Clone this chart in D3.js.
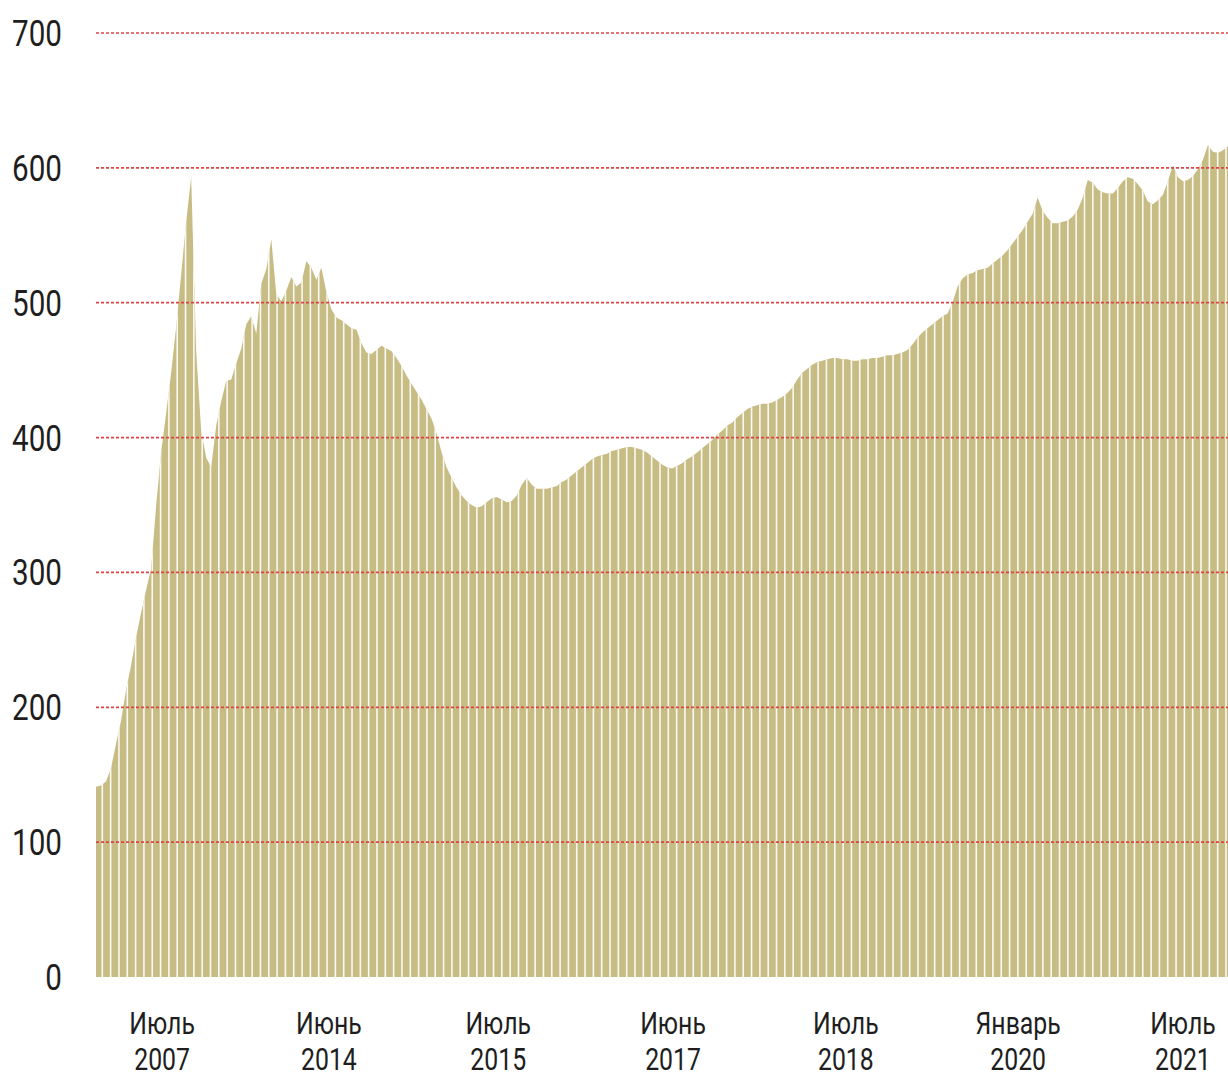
<!DOCTYPE html>
<html>
<head>
<meta charset="utf-8">
<script src="https://cdn.jsdelivr.net/npm/d3@7"></script>
<style>
  html, body { margin: 0; padding: 0; background: #ffffff; }
  svg { display: block; }
  .lbl { font-family: Roboto, "Liberation Sans", sans-serif; font-weight: 400; fill: #1e1e1e; }
</style>
</head>
<body>
<script>
// ---- data ----
const values = [
  141,142,145,155,173,190,213,231,252,270,
  287,303,349,389,418,448,482,521,560,593,
  464,405,385,378,409,427,442,443,455,466,
  484,490,477,514,525,547,506,501,509,519,
  512,515,531,526,517,526,508,495,489,487,
  484,481,480,470,463,462,465,468,466,464,
  459,453,446,440,434,428,421,414,403,389,
  378,370,363,357,353,350,348,349,352,355,
  356,354,352,353,357,365,370,365,362,362,
  362,363,364,367,369,372,375,378,381,384,
  386,387,388,390,391,392,393,393,392,391,
  389,386,383,380,378,377,379,381,384,386,
  389,392,395,398,402,405,409,411,415,418,
  421,423,424,425,425,426,428,430,433,437,
  443,448,451,454,456,457,458,459,459,458,
  458,457,457,458,458,459,459,460,461,461,
  462,463,465,469,474,478,481,484,487,490,
  492,500,512,518,521,522,524,525,526,529,
  532,535,539,544,549,554,560,566,578,568,
  563,559,559,560,561,564,569,578,591,589,
  584,582,581,581,585,590,593,592,588,583,
  575,573,576,580,590,602,593,590,591,594,
  599,606,617,612,611,613,616
];
const yTicks = [0, 100, 200, 300, 400, 500, 600, 700];
const xTickIndex = [13.2, 46.5, 80.3, 115.2, 149.7, 184.1, 217];
const xTickMonth = ["Июль", "Июнь", "Июль", "Июнь", "Июль", "Январь", "Июль"];
const xTickYear  = ["2007", "2014", "2015", "2017", "2018", "2020", "2021"];
const stripeCount = 136;

(function () {
  // ---- layout ----
  const W = 1228, H = 1077;
  const mLeft = 96, mRight = 1228, mTop = 33, mBottom = 977;
  const squeeze = 0.8; // condensed look of the reference typeface

  const svg = d3.select("body").append("svg")
    .attr("width", W).attr("height", H)
    .attr("viewBox", `0 0 ${W} ${H}`);

  svg.append("rect").attr("width", W).attr("height", H).attr("fill", "#ffffff");

  const x = d3.scaleLinear().domain([0, values.length - 1]).range([mLeft, mRight]);
  const y = d3.scaleLinear().domain([0, 700]).range([mBottom, mTop]);

  const area = d3.area()
    .x((d, i) => x(i))
    .y0(y(0))
    .y1(d => y(d))
    .curve(d3.curveLinear);

  const defs = svg.append("defs");
  defs.append("clipPath").attr("id", "areaClip")
    .append("path").attr("d", area(values));

  svg.append("path")
    .attr("d", area(values))
    .attr("fill", "#c7bd84");

  // vertical white stripes inside the area
  const sx = d3.scaleLinear().domain([0, stripeCount - 1]).range([mLeft + 6.3, mRight - 2]);
  svg.append("g").attr("clip-path", "url(#areaClip)")
    .selectAll("line").data(d3.range(stripeCount)).join("line")
    .attr("x1", d => sx(d)).attr("x2", d => sx(d))
    .attr("y1", y(700)).attr("y2", y(0))
    .attr("stroke", "#ffffff")
    .attr("stroke-opacity", 0.9)
    .attr("stroke-width", 1.6);

  // dashed red gridlines
  svg.append("g").selectAll("line").data(yTicks.filter(d => d > 0)).join("line")
    .attr("x1", mLeft).attr("x2", mRight)
    .attr("y1", d => y(d)).attr("y2", d => y(d))
    .attr("stroke", "#dc4446")
    .attr("stroke-width", 1.7)
    .attr("stroke-dasharray", "3,2");

  // y labels
  svg.append("g").selectAll("text").data(yTicks).join("text")
    .attr("class", "lbl")
    .attr("transform", d => `translate(62,${y(d) + 13}) scale(${squeeze},1)`)
    .attr("text-anchor", "end")
    .attr("font-size", 37)
    .text(d => d);

  // x labels (two lines)
  const xl = svg.append("g").selectAll("g").data(xTickIndex).join("g")
    .attr("transform", d => `translate(${x(d)},0) scale(${squeeze},1)`);
  xl.append("text")
    .attr("class", "lbl")
    .attr("x", 0).attr("y", 1034)
    .attr("text-anchor", "middle")
    .attr("font-size", 31)
    .text((d, i) => xTickMonth[i]);
  xl.append("text")
    .attr("class", "lbl")
    .attr("x", 0).attr("y", 1070)
    .attr("text-anchor", "middle")
    .attr("font-size", 31)
    .text((d, i) => xTickYear[i]);
})();
</script>
</body>
</html>
